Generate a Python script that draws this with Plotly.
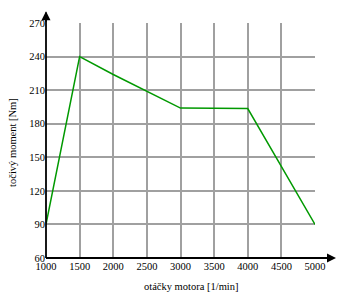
import plotly.graph_objects as go

rpm = [1000, 1500, 2000, 2500, 3000, 4000, 5000]
torque = [90, 240, 224, 209, 194, 193.5, 90]
x_ticks = [1000, 1500, 2000, 2500, 3000, 3500, 4000, 4500, 5000]
y_ticks = [60, 90, 120, 150, 180, 210, 240, 270]
x_title = "otáčky motora [1/min]"
y_title = "točivý moment [Nm]"

font = dict(family="Liberation Serif, Times New Roman, serif", size=10.5, color="black")

fig = go.Figure()
fig.add_trace(go.Scatter(x=rpm, y=torque, mode="lines",
                         line=dict(color="#009900", width=1.5),
                         hoverinfo="skip", showlegend=False))

fig.update_layout(
    width=348, height=300,
    margin=dict(l=46, r=33, t=23, b=42),
    plot_bgcolor="white", paper_bgcolor="white",
    font=font,
    xaxis=dict(range=[1000, 5000], tickvals=x_ticks, ticktext=[str(v) for v in x_ticks],
               showgrid=True, gridcolor="#a0a0a0", gridwidth=1.5,
               zeroline=False, showline=False, ticks="", ticklen=0,
               tickfont=font),
    yaxis=dict(range=[60, 270], tickvals=y_ticks, ticktext=[str(v) for v in y_ticks],
               showgrid=True, gridcolor="#a0a0a0", gridwidth=1.5,
               zeroline=False, showline=False, ticks="", ticklen=0,
               tickfont=font),
)

# axis titles
fig.add_annotation(xref="paper", yref="paper", x=0.539, y=-0.123, text=x_title,
                   showarrow=False, xanchor="center", yanchor="middle", font=font)
fig.add_annotation(xref="paper", yref="paper", x=-0.1227, y=0.494, text=y_title,
                   showarrow=False, xanchor="center", yanchor="middle", textangle=-90, font=font)

# axis lines with arrows
fig.add_shape(type="line", xref="paper", yref="paper", x0=0, x1=1.07, y0=0, y1=0,
              line=dict(color="black", width=1.8))
fig.add_shape(type="line", xref="paper", yref="paper", x0=0, x1=0, y0=0, y1=1.045,
              line=dict(color="black", width=1.8))
fig.add_annotation(xref="paper", yref="paper", x=1.078, y=0, ax=-12, ay=0,
                   axref="pixel", ayref="pixel", text="", showarrow=True,
                   arrowhead=2, arrowsize=1, arrowwidth=1.8, arrowcolor="black")
fig.add_annotation(xref="paper", yref="paper", x=0, y=1.05, ax=0, ay=12,
                   axref="pixel", ayref="pixel", text="", showarrow=True,
                   arrowhead=2, arrowsize=1, arrowwidth=1.8, arrowcolor="black")

fig.write_html("out.html")
